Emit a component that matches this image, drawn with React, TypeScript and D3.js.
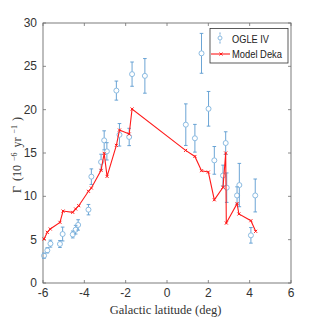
import React from "react";
import * as d3 from "d3";

const modelLat = [-5.95, -5.79, -5.65, -5.18, -5.03, -4.56, -4.42, -4.27, -3.8, -3.66, -3.19, -3.04, -2.9, -2.45, -2.3, -1.83, -1.69, 0.9, 1.35, 1.67, 2.0, 2.29, 2.71, 2.84, 2.87, 3.39, 3.48, 4.06, 4.29];
const modelRate = [5.08, 5.85, 6.23, 7.0, 8.3, 8.15, 8.54, 8.92, 10.58, 10.96, 13.0, 14.96, 12.3, 15.88, 17.65, 17.19, 20.08, 15.3, 14.6, 12.96, 12.8, 9.6, 11.04, 15.0, 6.92, 9.15, 7.96, 7.19, 5.96];

const ogleLat = [-5.95, -5.79, -5.64, -5.18, -5.05, -4.56, -4.42, -4.3, -3.8, -3.66, -3.19, -3.04, -2.91, -2.45, -2.3, -1.83, -1.69, -1.07, 0.91, 1.35, 1.67, 2.01, 2.29, 2.71, 2.84, 2.89, 3.39, 3.5, 4.06, 4.27];
const ogleRate = [3.15, 3.77, 4.54, 4.5, 5.65, 5.6, 6.15, 6.7, 8.46, 12.27, 13.96, 16.46, 15.19, 22.2, 17.1, 16.85, 24.1, 23.9, 18.27, 16.7, 26.5, 20.1, 14.15, 12.4, 16.15, 11.0, 10.1, 11.3, 5.5, 10.1];
const ogleErr = [0.3, 0.3, 0.4, 0.4, 0.8, 0.4, 0.5, 0.6, 0.6, 0.9, 0.9, 1.1, 1.0, 1.1, 1.3, 1.0, 1.4, 2.0, 2.4, 1.6, 2.3, 2.0, 1.6, 1.2, 1.3, 1.7, 1.0, 2.5, 0.9, 1.9];

const xTicks = [-6, -4, -2, 0, 2, 4, 6];
const yTicks = [0, 5, 10, 15, 20, 25, 30];

const W = 322, H = 322;
const L = 43, R = 291, T = 23, B = 283;

export default function App() {
  const x = d3.scaleLinear().domain([-6, 6]).range([L, R]);
  const y = d3.scaleLinear().domain([0, 30]).range([B, T]);
  const line = d3.line<number>().x((_, i) => x(modelLat[i])).y((_, i) => y(modelRate[i]));
  const axisColor = "#6e6e6e";
  const blue = "#80b4de";
  const blueBar = "#5b9bd0";
  const red = "#ff1a1a";
  const tickFont = "'Liberation Sans', sans-serif";
  const serif = "'Liberation Serif', 'DejaVu Serif', serif";
  const cross = (cx: number, cy: number, s: number) => `M${cx - s},${cy - s}L${cx + s},${cy + s}M${cx - s},${cy + s}L${cx + s},${cy - s}`;
  return (
    <svg width={W} height={H} style={{ position: "absolute", left: 0, top: 0, background: "#fff" }}>
      <rect x={0} y={0} width={W} height={H} fill="#fff" />
      <rect x={L} y={T} width={R - L} height={B - T} fill="none" stroke={axisColor} strokeWidth={0.9} />
      {xTicks.map((t) => (
        <g key={"x" + t}>
          <line x1={x(t)} x2={x(t)} y1={B} y2={B - 3} stroke={axisColor} strokeWidth={0.8} />
          <line x1={x(t)} x2={x(t)} y1={T} y2={T + 3} stroke={axisColor} strokeWidth={0.8} />
          <text x={x(t)} y={B + 14} textAnchor="middle" fontFamily={tickFont} fontSize={12} fill="#333">{t}</text>
        </g>
      ))}
      {yTicks.map((t) => (
        <g key={"y" + t}>
          <line x1={L} x2={L + 3} y1={y(t)} y2={y(t)} stroke={axisColor} strokeWidth={0.8} />
          <line x1={R} x2={R - 3} y1={y(t)} y2={y(t)} stroke={axisColor} strokeWidth={0.8} />
          <text x={L - 6} y={y(t) + 4} textAnchor="end" fontFamily={tickFont} fontSize={12} fill="#333">{t}</text>
        </g>
      ))}
      {ogleLat.map((lat, i) => {
        const cx = x(lat), cy = y(ogleRate[i]);
        const y1 = y(ogleRate[i] + ogleErr[i]), y2 = y(ogleRate[i] - ogleErr[i]);
        return (
          <g key={"o" + i}>
            <line x1={cx} x2={cx} y1={y1} y2={cy - 2.5} stroke={blueBar} strokeWidth={0.9} />
            <line x1={cx} x2={cx} y1={cy + 2.5} y2={y2} stroke={blueBar} strokeWidth={0.9} />
            <line x1={cx - 1.8} x2={cx + 1.8} y1={y1} y2={y1} stroke={blueBar} strokeWidth={0.9} />
            <line x1={cx - 1.8} x2={cx + 1.8} y1={y2} y2={y2} stroke={blueBar} strokeWidth={0.9} />
            <circle cx={cx} cy={cy} r={2.5} fill="none" stroke={blue} strokeWidth={0.9} />
          </g>
        );
      })}
      <path d={line(modelLat) || ""} fill="none" stroke={red} strokeWidth={1.1} />
      {modelLat.map((lat, i) => (
        <path key={"m" + i} d={cross(x(lat), y(modelRate[i]), 1.5)} stroke={red} strokeWidth={1} />
      ))}
      {/* Legend */}
      <rect x={210} y={28.5} width={78} height={34.5} fill="#fff" stroke="#333" strokeWidth={0.8} />
      <line x1={220} x2={220} y1={33} y2={43} stroke={blueBar} strokeWidth={0.8} opacity={0.6} />
      <line x1={219} x2={221} y1={33} y2={33} stroke={blueBar} strokeWidth={0.8} opacity={0.6} />
      <line x1={219} x2={221} y1={43} y2={43} stroke={blueBar} strokeWidth={0.8} opacity={0.6} />
      <circle cx={220} cy={38} r={2} fill="#fff" stroke={blue} strokeWidth={0.9} />
      <text x={232} y={43} fontFamily={tickFont} fontSize={11} fill="#222" textLength={37} lengthAdjust="spacingAndGlyphs">OGLE IV</text>
      <line x1={211} x2={230} y1={54} y2={54} stroke={red} strokeWidth={1.1} />
      <path d={cross(221, 54, 1.5)} stroke={red} strokeWidth={1} />
      <text x={232} y={58} fontFamily={tickFont} fontSize={11} fill="#222" textLength={50} lengthAdjust="spacingAndGlyphs">Model Deka</text>
      <text x={165.5} y={314} textAnchor="middle" fontFamily={serif} fontSize={12.5} fill="#333">Galactic latitude (deg)</text>
      <text transform={`translate(21,155) rotate(-90)`} textAnchor="middle" fontFamily={serif} fontSize={12} fill="#333">
        Γ<tspan dx={5}>(10</tspan><tspan dx={4} dy={-4} fontSize={8}>−6</tspan><tspan dx={5} dy={4}>yr</tspan><tspan dx={4} dy={-4} fontSize={8}>−1</tspan><tspan dx={4} dy={4}>)</tspan>
      </text>
    </svg>
  );
}
